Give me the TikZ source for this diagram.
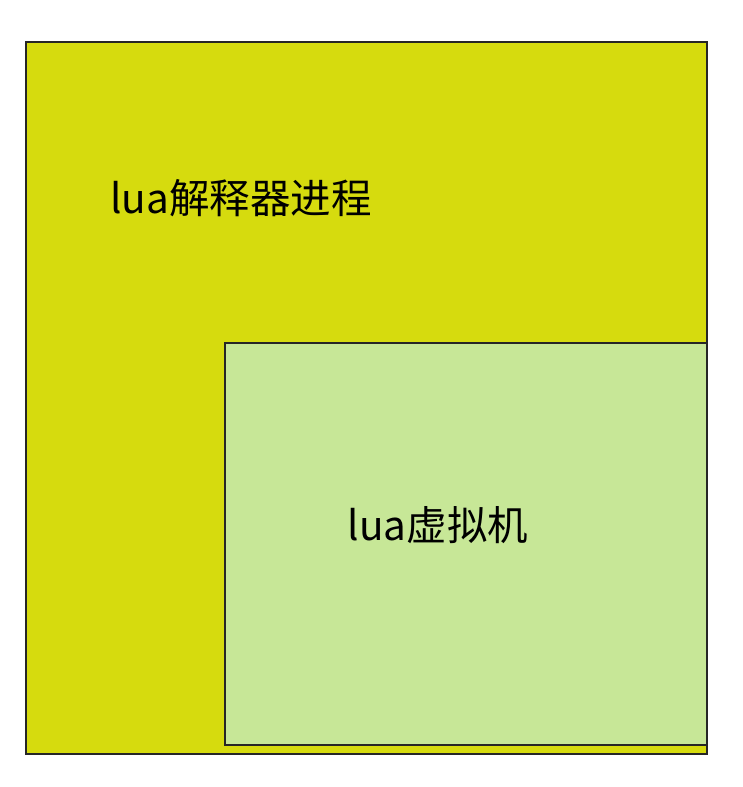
\documentclass[tikz,border=0pt]{standalone}
\usepackage{fontspec}
\newfontfamily\cjk{Noto Sans CJK SC}
\definecolor{outerfill}{RGB}{214,219,14}
\definecolor{innerfill}{RGB}{199,231,151}
\begin{document}
\begin{tikzpicture}[x=1pt,y=-1pt,
  box/.style={draw=black!85,line width=1.6pt},
  lbl/.style={font=\cjk\fontsize{40.5}{46}\selectfont,text=black,inner sep=0pt}]
\useasboundingbox (0,0) rectangle (742,787);
\fill[white] (0,0) rectangle (742,787);
\draw[box,fill=outerfill] (26,42) rectangle (707,754);
\draw[box,fill=innerfill] (225,343) rectangle (707,745);
\node[lbl] (proc) at (241,198) {lua解释器进程};
\node[lbl] (vm) at (438,525) {lua虚拟机};
\end{tikzpicture}
\end{document}
